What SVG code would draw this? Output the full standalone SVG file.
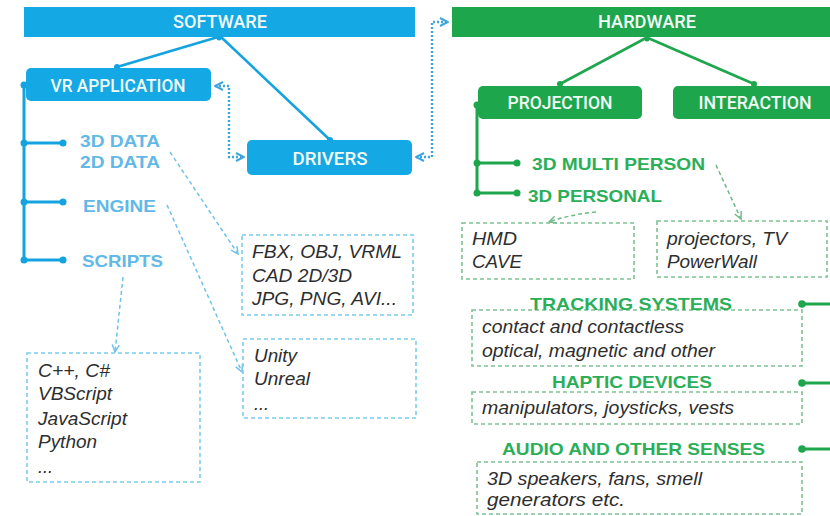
<svg xmlns="http://www.w3.org/2000/svg" width="830" height="516" viewBox="0 0 830 516">
  <defs>
    <style>
      .bar-sw { fill: #14A8E4; }
      .bar-hw { fill: #1EA64D; }
      .head { font-family: Roboto, "Liberation Sans", Arial, sans-serif; font-weight: 500; font-size: 18px; fill: #F2FAF6; text-anchor: middle; }
      .sub-b { font-family: "Liberation Sans", Arial, sans-serif; font-weight: bold; font-size: 16.5px; fill: #62B8E6; }
      .sub-g { font-family: "Liberation Sans", Arial, sans-serif; font-weight: bold; font-size: 17px; fill: #2AAF58; }
      .item { font-family: "Liberation Sans", Arial, sans-serif; font-style: italic; font-size: 18px; fill: #2E2E2E; }
      .box-b { fill: none; stroke: #7ECCEE; stroke-width: 1.6; stroke-dasharray: 4 3; }
      .box-g { fill: none; stroke: #7DC191; stroke-width: 1.6; stroke-dasharray: 4 3; }
      .tree-b { fill: none; stroke: #14A3E0; stroke-width: 3; }
      .tree-g { fill: none; stroke: #1EA64D; stroke-width: 3; }
      .dot-b { fill: #14A3E0; }
      .dot-g { fill: #1EA64D; }
      .link-b { fill: none; stroke: #3AA5DE; stroke-width: 2.4; stroke-dasharray: 2 2; }
      .hint-b { fill: none; stroke: #6EC3EC; stroke-width: 1.5; stroke-dasharray: 4 3; }
      .hint-g { fill: none; stroke: #6DBA86; stroke-width: 1.5; stroke-dasharray: 4 3; }
    </style>
    <marker id="chev-b" viewBox="0 0 10 10" refX="9" refY="5" markerWidth="10" markerHeight="10" markerUnits="userSpaceOnUse" orient="auto-start-reverse">
      <path d="M1,1 L9,5 L1,9" fill="none" stroke="#3AA5DE" stroke-width="2"/>
    </marker>
    <marker id="tip-b" viewBox="0 0 10 10" refX="9" refY="5" markerWidth="9" markerHeight="9" markerUnits="userSpaceOnUse" orient="auto">
      <path d="M1,1 L9,5 L1,9" fill="none" stroke="#6EC3EC" stroke-width="1.6"/>
    </marker>
    <marker id="tip-g" viewBox="0 0 10 10" refX="9" refY="5" markerWidth="9" markerHeight="9" markerUnits="userSpaceOnUse" orient="auto">
      <path d="M1,1 L9,5 L1,9" fill="none" stroke="#6DBA86" stroke-width="1.6"/>
    </marker>
  </defs>

  <rect width="830" height="516" fill="#ffffff"/>

  <!-- connectors -->
  <g id="connectors">
    <!-- software branch lines -->
    <line x1="218" y1="37" x2="117" y2="67" stroke="#14A3E0" stroke-width="2.6"/>
    <line x1="221" y1="37" x2="330" y2="140" stroke="#14A3E0" stroke-width="2.6"/>
    <circle cx="117" cy="67" r="3" class="dot-b"/>
    <circle cx="330" cy="140" r="3" class="dot-b"/>
    <circle cx="219" cy="38" r="2.5" class="dot-b"/>
    <!-- hardware branch lines -->
    <line x1="646" y1="38" x2="560" y2="84" stroke="#1EA64D" stroke-width="2.6"/>
    <line x1="648" y1="38" x2="754" y2="84" stroke="#1EA64D" stroke-width="2.6"/>
    <circle cx="560" cy="84" r="3" class="dot-g"/>
    <circle cx="754" cy="84" r="3" class="dot-g"/>
    <circle cx="647" cy="39" r="2.5" class="dot-g"/>

    <!-- software tree -->
    <path class="tree-b" d="M24,85 V260 M24,143 H63 M24,202 H63 M24,260 H63"/>
    <circle cx="24" cy="85" r="3.5" class="dot-b"/>
    <circle cx="24" cy="143" r="3.5" class="dot-b"/>
    <circle cx="63" cy="143" r="3.5" class="dot-b"/>
    <circle cx="24" cy="202" r="3.5" class="dot-b"/>
    <circle cx="63" cy="202" r="3.5" class="dot-b"/>
    <circle cx="24" cy="260" r="3.5" class="dot-b"/>
    <circle cx="63" cy="260" r="3.5" class="dot-b"/>

    <!-- projection tree -->
    <path class="tree-g" d="M477,105 V193 M477,163 H517 M477,193 H517"/>
    <circle cx="477" cy="105" r="3.5" class="dot-g"/>
    <circle cx="477" cy="163" r="3.5" class="dot-g"/>
    <circle cx="517" cy="163" r="3.5" class="dot-g"/>
    <circle cx="477" cy="193" r="3.5" class="dot-g"/>
    <circle cx="517" cy="193" r="3.5" class="dot-g"/>

    <!-- interaction taps on the right -->
    <path class="tree-g" d="M802,304 H830 M802,383 H830 M802,449 H830"/>
    <circle cx="802" cy="304" r="3.8" class="dot-g"/>
    <circle cx="802" cy="383" r="3.8" class="dot-g"/>
    <circle cx="802" cy="449" r="3.8" class="dot-g"/>

    <!-- dotted two-way links -->
    <path class="link-b" d="M215,86 H229 V157 H244" marker-start="url(#chev-b)" marker-end="url(#chev-b)"/>
    <path class="link-b" d="M416,157 H432 V22 H448" marker-start="url(#chev-b)" marker-end="url(#chev-b)"/>

    <!-- dashed pointers to detail boxes -->
    <path class="hint-b" d="M170,152 L238,254" marker-end="url(#tip-b)"/>
    <path class="hint-b" d="M167,205 L242,372" marker-end="url(#tip-b)"/>
    <path class="hint-b" d="M123,277 L115,352" marker-end="url(#tip-b)"/>
    <path class="hint-g" d="M596,212 Q572,214 549,222" marker-end="url(#tip-g)"/>
    <path class="hint-g" d="M716,165 L741,219" marker-end="url(#tip-g)"/>
  </g>

  <!-- software side -->
  <g id="software">
    <rect class="bar-sw" x="24" y="7" width="391" height="30"/>
    <text class="head" x="220" y="28" textLength="94" lengthAdjust="spacingAndGlyphs">SOFTWARE</text>
  </g>
  <g id="vr-application">
    <rect class="bar-sw" x="26" y="68" width="185" height="33" rx="5"/>
    <text class="head" x="118" y="92" textLength="135" lengthAdjust="spacingAndGlyphs">VR APPLICATION</text>
  </g>
  <g id="drivers">
    <rect class="bar-sw" x="247" y="140" width="165" height="35" rx="5"/>
    <text class="head" x="330" y="165" textLength="75" lengthAdjust="spacingAndGlyphs">DRIVERS</text>
  </g>
  <g id="data">
    <text class="sub-b" x="80" y="147" textLength="80" lengthAdjust="spacingAndGlyphs">3D DATA</text>
    <text class="sub-b" x="80" y="168" textLength="80" lengthAdjust="spacingAndGlyphs">2D DATA</text>
  </g>
  <g id="engine">
    <text class="sub-b" x="83" y="212" textLength="73" lengthAdjust="spacingAndGlyphs">ENGINE</text>
  </g>
  <g id="scripts">
    <text class="sub-b" x="82" y="267" textLength="81" lengthAdjust="spacingAndGlyphs">SCRIPTS</text>
  </g>
  <g id="formats">
    <rect class="box-b" x="242" y="235" width="171" height="80"/>
    <text class="item" x="252" y="258" textLength="150" lengthAdjust="spacingAndGlyphs">FBX, OBJ, VRML</text>
    <text class="item" x="252" y="282" textLength="100" lengthAdjust="spacingAndGlyphs">CAD 2D/3D</text>
    <text class="item" x="252" y="305" textLength="145" lengthAdjust="spacingAndGlyphs">JPG, PNG, AVI...</text>
  </g>
  <g id="engines">
    <rect class="box-b" x="243" y="339" width="173" height="79"/>
    <text class="item" x="254" y="362" textLength="43" lengthAdjust="spacingAndGlyphs">Unity</text>
    <text class="item" x="254" y="385" textLength="56" lengthAdjust="spacingAndGlyphs">Unreal</text>
    <text class="item" x="254" y="410" font-size="13">...</text>
  </g>
  <g id="languages">
    <rect class="box-b" x="27" y="353" width="173" height="129"/>
    <text class="item" x="38" y="377" textLength="72" lengthAdjust="spacingAndGlyphs">C++, C#</text>
    <text class="item" x="38" y="400" textLength="74" lengthAdjust="spacingAndGlyphs">VBScript</text>
    <text class="item" x="38" y="425" textLength="89" lengthAdjust="spacingAndGlyphs">JavaScript</text>
    <text class="item" x="38" y="448" textLength="59" lengthAdjust="spacingAndGlyphs">Python</text>
    <text class="item" x="38" y="473" font-size="13">...</text>
  </g>

  <!-- hardware side -->
  <g id="hardware">
    <rect class="bar-hw" x="452" y="7" width="378" height="30"/>
    <text class="head" x="647" y="28" textLength="98" lengthAdjust="spacingAndGlyphs">HARDWARE</text>
  </g>
  <g id="projection">
    <rect class="bar-hw" x="478" y="86" width="164" height="33" rx="5"/>
    <text class="head" x="560" y="109" textLength="105" lengthAdjust="spacingAndGlyphs">PROJECTION</text>
  </g>
  <g id="interaction">
    <rect class="bar-hw" x="673" y="86" width="170" height="33" rx="5"/>
    <text class="head" x="755" y="109" textLength="113" lengthAdjust="spacingAndGlyphs">INTERACTION</text>
  </g>
  <g id="multi-person">
    <text class="sub-g" x="532" y="170" textLength="173" lengthAdjust="spacingAndGlyphs">3D MULTI PERSON</text>
  </g>
  <g id="personal">
    <text class="sub-g" x="528" y="202" textLength="134" lengthAdjust="spacingAndGlyphs">3D PERSONAL</text>
  </g>
  <g id="personal-devices">
    <rect class="box-g" x="462" y="223" width="172" height="56"/>
    <text class="item" x="472" y="245" textLength="45" lengthAdjust="spacingAndGlyphs">HMD</text>
    <text class="item" x="472" y="268" textLength="50" lengthAdjust="spacingAndGlyphs">CAVE</text>
  </g>
  <g id="multi-devices">
    <rect class="box-g" x="657" y="221" width="170" height="56"/>
    <text class="item" x="667" y="245" textLength="120" lengthAdjust="spacingAndGlyphs">projectors, TV</text>
    <text class="item" x="667" y="268" textLength="90" lengthAdjust="spacingAndGlyphs">PowerWall</text>
  </g>
  <g id="tracking">
    <rect class="box-g" x="472" y="310" width="330" height="56"/>
    <text class="sub-g" x="530" y="310" textLength="202" lengthAdjust="spacingAndGlyphs">TRACKING SYSTEMS</text>
    <text class="item" x="482" y="333" textLength="202" lengthAdjust="spacingAndGlyphs">contact and contactless</text>
    <text class="item" x="482" y="357" textLength="233" lengthAdjust="spacingAndGlyphs">optical, magnetic and other</text>
  </g>
  <g id="haptic">
    <rect class="box-g" x="472" y="392" width="330" height="32"/>
    <text class="sub-g" x="552" y="388" textLength="160" lengthAdjust="spacingAndGlyphs">HAPTIC DEVICES</text>
    <text class="item" x="482" y="414" textLength="252" lengthAdjust="spacingAndGlyphs">manipulators, joysticks, vests</text>
  </g>
  <g id="senses">
    <rect class="box-g" x="477" y="462" width="325" height="52"/>
    <text class="sub-g" x="502" y="455" textLength="263" lengthAdjust="spacingAndGlyphs">AUDIO AND OTHER SENSES</text>
    <text class="item" x="487" y="485" textLength="215" lengthAdjust="spacingAndGlyphs">3D speakers, fans, smell</text>
    <text class="item" x="487" y="506" textLength="138" lengthAdjust="spacingAndGlyphs">generators etc.</text>
  </g>
</svg>
